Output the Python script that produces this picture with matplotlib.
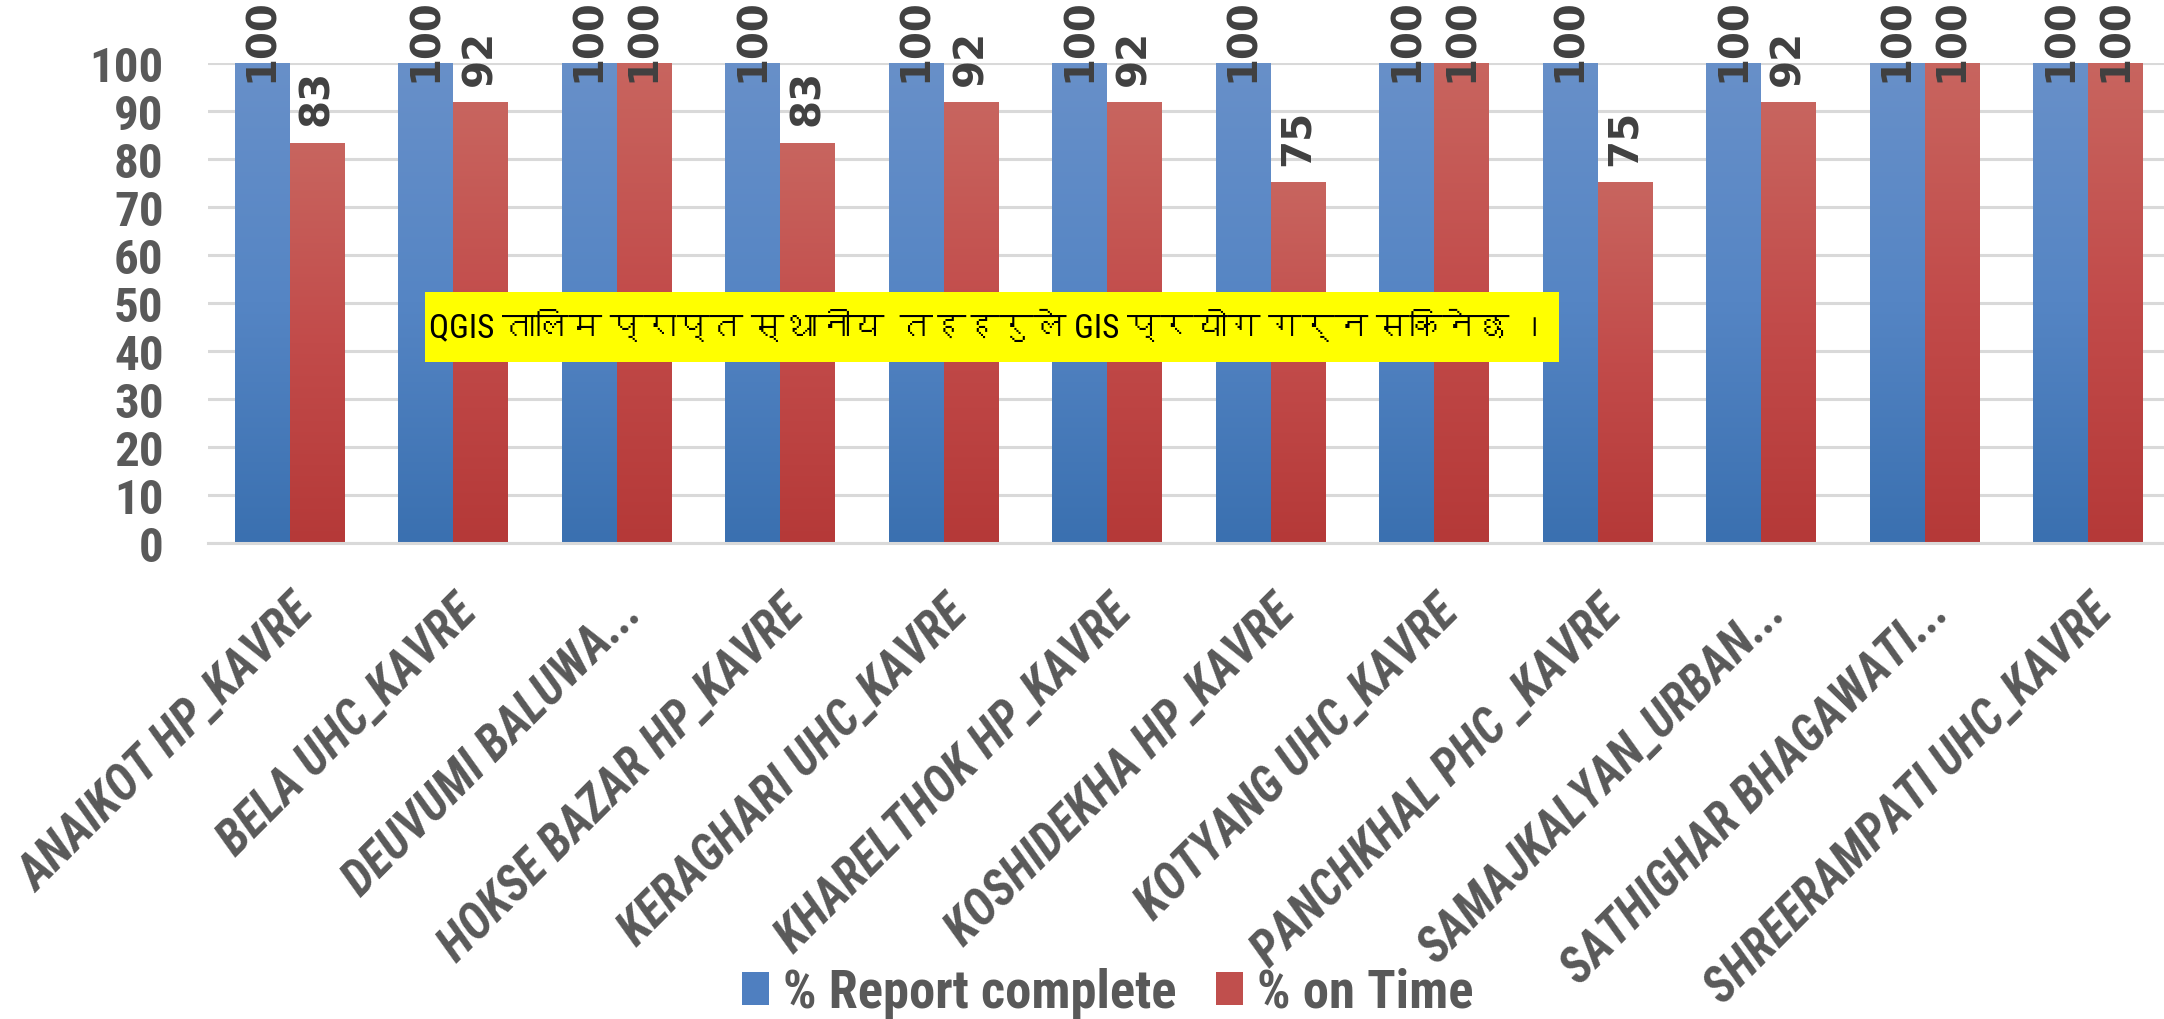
import numpy as np
import matplotlib
matplotlib.use("Agg")
import matplotlib.pyplot as plt
from matplotlib import font_manager, ft2font
from matplotlib.colors import LinearSegmentedColormap
from matplotlib.patches import Rectangle

# data
sites = ["ANAIKOT HP_KAVRE", "BELA UHC_KAVRE", "DEUVUMI BALUWA...",
         "HOKSE BAZAR HP_KAVRE", "KERAGHARI UHC_KAVRE", "KHARELTHOK HP_KAVRE",
         "KOSHIDEKHA HP_KAVRE", "KOTYANG UHC_KAVRE", "PANCHKHAL PHC _KAVRE",
         "SAMAJKALYAN_URBAN...", "SATHIGHAR BHAGAWATI...", "SHREERAMPATI UHC_KAVRE"]
report_complete = [100, 100, 100, 100, 100, 100, 100, 100, 100, 100, 100, 100]
on_time = [83.33, 91.67, 100, 83.33, 91.67, 91.67, 75, 100, 75, 91.67, 100, 100]
series_names = ["% Report complete", "% on Time"]
yticks = list(range(0, 101, 10))
note = "QGIS तालिम प्राप्त स्थानीय  तहहरुले GIS प्रयोग गर्न सकिनेछ ।"


def find_font(ch):
    # look for any installed font that has the glyph
    for f in font_manager.fontManager.ttflist:
        try:
            ft = ft2font.FT2Font(f.fname)
            if ord(ch) in ft.get_charmap():
                return f.name
        except Exception:
            pass
    return None


names = set(f.name for f in font_manager.fontManager.ttflist)
main_font = "Lato"
for cand in ["Liberation Sans Narrow", "Roboto Condensed", "Open Sans Condensed", "Lato"]:
    if cand in names:
        main_font = cand
        break
dev_font = find_font("त")
fam = [main_font, "DejaVu Sans"]
note_fam = [main_font] + ([dev_font] if dev_font else []) + ["DejaVu Sans"]

grey = "#595959"
blue_cm = LinearSegmentedColormap.from_list("b", ["#3A70B0", "#5585C4", "#6890C9"])
red_cm = LinearSegmentedColormap.from_list("r", ["#B53938", "#C24B4A", "#C8655F"])

fig = plt.figure(figsize=(21.64, 10.2), dpi=100)
fig.canvas.draw()
renderer = fig.canvas.get_renderer()


def fit_size(s, target, **kw):
    # font size that makes the text box `target` px wide
    t = fig.text(0, 0, s, fontsize=20, **kw)
    wpx = t.get_window_extent(renderer).width
    t.remove()
    return 20.0 * target / wpx


ytick_size = fit_size("100", 74, family=fam, fontweight="bold")
xlab_size = fit_size(sites[0], 312, family=fam, fontweight="bold",
                     fontstyle="italic", rotation=45)
leg_size = fit_size(series_names[0], 392, family=fam, fontweight="bold")
note_size = fit_size(note, 1120, family=note_fam)

ax = fig.add_axes([0.0961, 0.4667, 0.9067, 0.4706])

x = np.arange(len(sites))
w = 0.336
b1 = ax.bar(x - w / 2, report_complete, w, color="none", zorder=2)
b2 = ax.bar(x + w / 2, on_time, w, color="none", zorder=2)

grad = np.linspace(0, 1, 256).reshape(-1, 1)
for bars, cm in [(b1, blue_cm), (b2, red_cm)]:
    for p in bars:
        x0, y0 = p.get_x(), p.get_y()
        ax.imshow(grad, extent=[x0, x0 + p.get_width(), y0, y0 + p.get_height()],
                  origin="lower", cmap=cm, aspect="auto", zorder=2)

# value labels, pushed down when they hit the top
for bars, vals in [(b1, report_complete), (b2, on_time)]:
    for p, v in zip(bars, vals):
        ax.text(p.get_x() + p.get_width() / 2, min(v + 3.75, 96.25), "%.0f" % v,
                rotation=90, ha="center", va="bottom", fontsize=29,
                fontweight="bold", family="DejaVu Sans",
                color="#404040", zorder=5)

ax.set_xlim(-0.5, len(sites) - 0.5)
ax.set_ylim(0, 100)
ax.set_yticks(yticks)
ax.set_yticklabels([str(t) for t in yticks], fontsize=ytick_size, fontweight="bold",
                   color=grey, family=fam)
ax.tick_params(axis="y", length=0, pad=32)
ax.set_xticks(x)
ax.set_xticklabels(sites, rotation=45, ha="right", rotation_mode="anchor",
                   fontsize=xlab_size, fontweight="bold", fontstyle="italic",
                   color=grey, family=fam)
ax.tick_params(axis="x", length=0, pad=32)

ax.set_axisbelow(True)
ax.grid(axis="y", color="#D9D9D9", linewidth=2.2)
for s in ["top", "right", "left"]:
    ax.spines[s].set_visible(False)
ax.spines["bottom"].set_color("#D9D9D9")
ax.spines["bottom"].set_linewidth(2.2)

# yellow note box
ax.add_patch(Rectangle((0.83, 37.7), 6.93, 14.6, facecolor="#FFFF00",
                       edgecolor="none", zorder=6))
ax.text(0.85, 45, note, fontsize=note_size, color="black", va="center", ha="left",
        family=note_fam, zorder=7)

handles = [Rectangle((0, 0), 1, 1, facecolor="#4F7FC0"),
           Rectangle((0, 0), 1, 1, facecolor="#C04F4D")]
leg_px = leg_size * 100 / 72.0
leg = fig.legend(handles, series_names, loc="center", bbox_to_anchor=(0.512, 0.026),
                 ncol=2, frameon=False, handlelength=27 / leg_px,
                 handleheight=30 / leg_px, handletextpad=14 / leg_px,
                 columnspacing=40 / leg_px,
                 prop={"family": fam, "size": leg_size, "weight": "bold"})
for t in leg.get_texts():
    t.set_color(grey)

fig.savefig("out.png", dpi=100)
